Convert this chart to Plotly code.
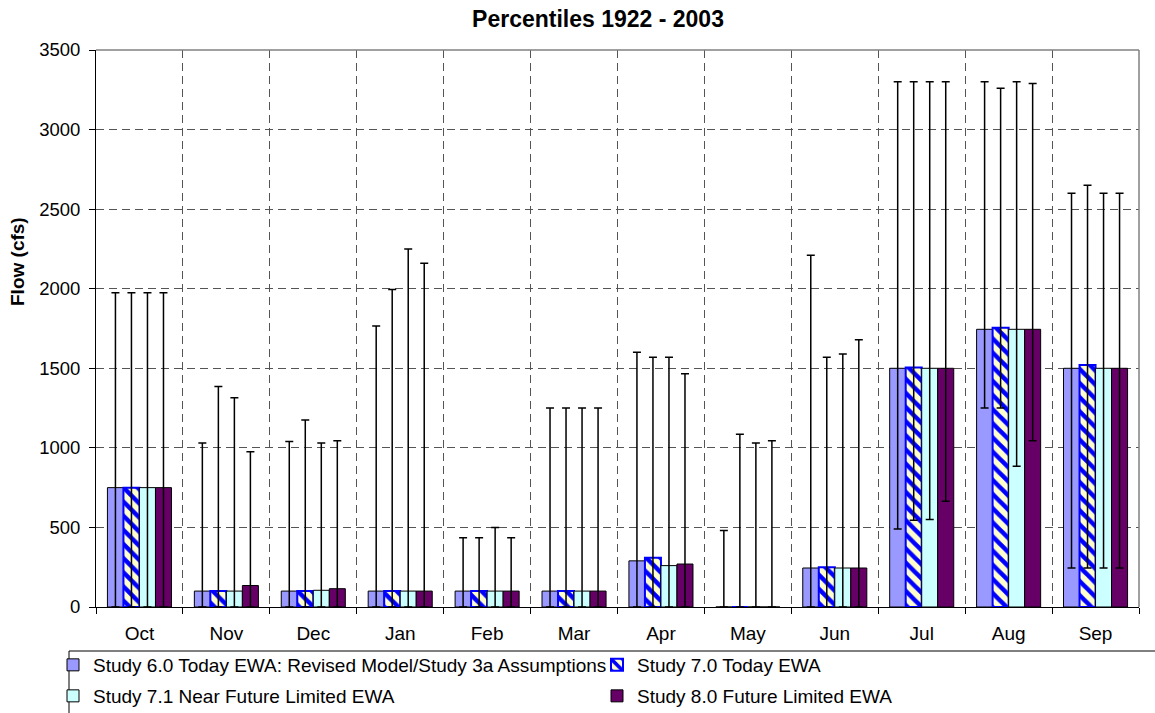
import plotly.graph_objects as go

months = ["Oct", "Nov", "Dec", "Jan", "Feb", "Mar", "Apr", "May", "Jun", "Jul", "Aug", "Sep"]
y_ticks = [0, 500, 1000, 1500, 2000, 2500, 3000, 3500]

names = [
    "Study 6.0 Today EWA: Revised Model/Study 3a Assumptions",
    "Study 7.0 Today EWA",
    "Study 7.1 Near Future Limited EWA",
    "Study 8.0 Future Limited EWA",
]

# median (bar) values
s60_med = [750, 100, 100, 100, 100, 100, 290, 0, 245, 1500, 1745, 1500]
s70_med = [750, 100, 100, 100, 100, 100, 310, 0, 250, 1505, 1755, 1520]
s71_med = [750, 100, 105, 100, 100, 100, 260, 0, 245, 1500, 1745, 1500]
s80_med = [750, 135, 115, 100, 100, 100, 270, 0, 245, 1500, 1745, 1500]

# upper percentile
s60_hi = [1975, 1030, 1040, 1765, 435, 1250, 1600, 480, 2210, 3300, 3300, 2600]
s70_hi = [1975, 1385, 1175, 1995, 435, 1250, 1570, 1085, 1570, 3300, 3260, 2650]
s71_hi = [1975, 1315, 1030, 2250, 500, 1250, 1570, 1030, 1590, 3300, 3300, 2600]
s80_hi = [1975, 975, 1045, 2160, 435, 1250, 1465, 1045, 1680, 3300, 3290, 2600]

# lower percentile
s60_lo = [0, 0, 0, 0, 0, 0, 0, 0, 0, 490, 1250, 245]
s70_lo = [0, 0, 0, 0, 0, 0, 0, 0, 0, 545, 1250, 245]
s71_lo = [0, 0, 0, 0, 0, 0, 0, 0, 0, 550, 885, 245]
s80_lo = [0, 0, 0, 0, 0, 0, 0, 0, 0, 665, 1045, 245]

FONT = "Liberation Sans, Arial, sans-serif"
W, H = 1155, 713
L, R, T, B = 96, 1139, 50, 607

def px_x(p):
    return (p - L) / (R - L)

def px_y(p):
    return (B - p) / (B - T)

series = [
    (names[0], s60_med, s60_hi, s60_lo, dict(color="#9999FF", line=dict(color="#000000", width=1))),
    (names[1], s70_med, s70_hi, s70_lo, dict(color="#FFFFCC",
                                              line=dict(color="#0000FF", width=2),
                                              pattern=dict(shape="\\", fgcolor="#0000FF", bgcolor="#FFFFCC",
                                                           size=10, solidity=0.45, fillmode="replace"))),
    (names[2], s71_med, s71_hi, s71_lo, dict(color="#CCFFFF", line=dict(color="#000000", width=1))),
    (names[3], s80_med, s80_hi, s80_lo, dict(color="#660066", line=dict(color="#000000", width=1))),
]

legend_ids = ["legend", "legend2", "legend3", "legend4"]

fig = go.Figure()
for i, (nm, med, hi, lo, mk) in enumerate(series):
    fig.add_trace(go.Bar(
        x=months, y=med, name=nm, marker=mk,
        legend=legend_ids[i],
        error_y=dict(type="data", symmetric=False,
                     array=[h - m for h, m in zip(hi, med)],
                     arrayminus=[m - l for m, l in zip(med, lo)],
                     color="#000000", thickness=1.5, width=4),
    ))

# legend positions in pixels (left, vertical middle)
leg_pos = [(53, 665), (597, 665), (53, 696), (597, 696)]
leg_common = dict(font=dict(family=FONT, size=19, color="#000000"),
                  bgcolor="rgba(0,0,0,0)", borderwidth=0,
                  xref="paper", yref="paper",
                  xanchor="left", yanchor="middle")
legend_layout = {}
for lid, (lx, ly) in zip(legend_ids, leg_pos):
    legend_layout[lid] = dict(x=px_x(lx), y=px_y(ly), **leg_common)

grid_dash = "8px,5px"

fig.update_layout(
    width=W, height=H,
    margin=dict(l=L, r=W - R, t=T, b=H - B, autoexpand=False),
    paper_bgcolor="white", plot_bgcolor="white",
    barmode="group", bargap=0.263, bargroupgap=0,
    font=dict(family=FONT, size=19, color="#000000"),
    title=dict(text="<b>Percentiles 1922 - 2003</b>", x=px_x(598), xref="paper", xanchor="center",
               y=1 - 18.5 / H, yref="container", yanchor="middle",
               font=dict(family=FONT, size=23, color="#000000")),
    xaxis=dict(type="category", tickson="boundaries", ticks="outside", ticklen=6,
               tickcolor="#000000", showline=True, linecolor="#000000", linewidth=1,
               showgrid=True, gridcolor="#555555", griddash=grid_dash, gridwidth=1,
               ticklabelstandoff=9,
               tickfont=dict(family=FONT, size=19, color="#000000")),
    yaxis=dict(range=[0, 3500], tickvals=y_ticks, ticks="outside", ticklen=6,
               tickcolor="#000000", showline=True, linecolor="#000000", linewidth=1,
               showgrid=True, gridcolor="#555555", griddash=grid_dash, gridwidth=1,
               zeroline=False, ticklabelstandoff=5,
               tickfont=dict(family=FONT, size=18.5, color="#000000")),
    showlegend=True,
    **legend_layout,
)

# plot area border (top/right gray) and legend box
fig.add_shape(type="line", xref="paper", yref="paper", x0=0, x1=1, y0=1, y1=1,
              line=dict(color="#808080", width=1.5))
fig.add_shape(type="line", xref="paper", yref="paper", x0=1, x1=1, y0=0, y1=1,
              line=dict(color="#808080", width=1.5))
fig.add_shape(type="rect", xref="paper", yref="paper",
              x0=px_x(69), x1=px_x(1170), y0=px_y(651), y1=px_y(730),
              line=dict(color="#000000", width=1), fillcolor="rgba(0,0,0,0)")

fig.add_annotation(text="<b>Flow (cfs)</b>", textangle=-90, xref="paper", yref="paper",
                   x=px_x(17), y=px_y(262), xanchor="center", yanchor="middle", showarrow=False,
                   font=dict(family=FONT, size=19, color="#000000"))

fig.write_html("out.html", config={"displayModeBar": False},
               post_script="document.body.style.margin='0px';")
